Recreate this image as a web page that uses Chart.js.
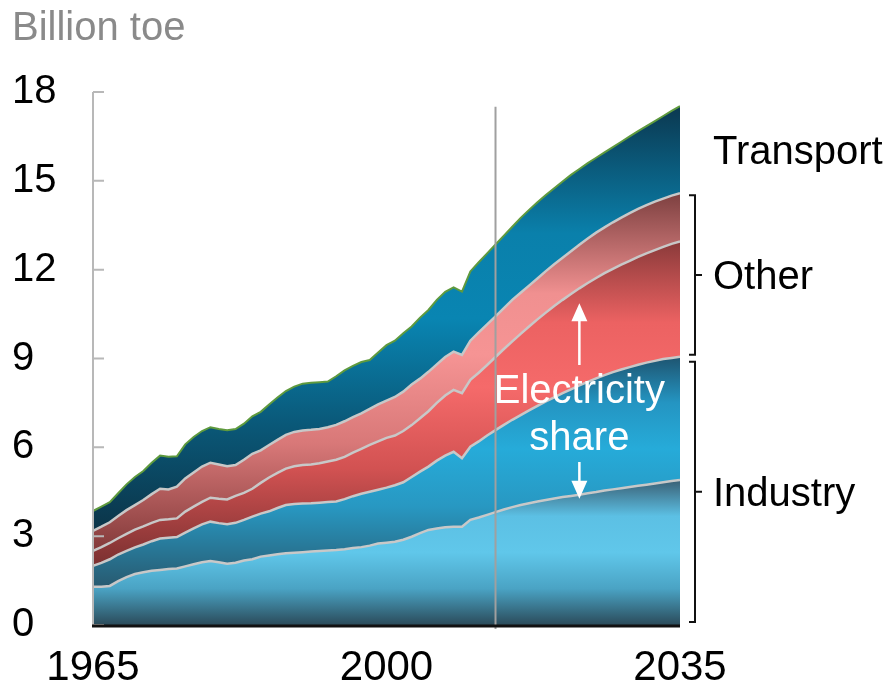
<!DOCTYPE html>
<html>
<head>
<meta charset="utf-8">
<title>Final energy consumption by sector</title>
<script src="https://cdn.jsdelivr.net/npm/chart.js@4.4.1/dist/chart.umd.min.js"></script>
<style>
  html, body { margin: 0; padding: 0; background: #fff; }
  #wrap { width: 896px; height: 683px; }
</style>
</head>
<body>
<div id="wrap"><canvas id="chart" width="896" height="683"></canvas></div>
<script>
// Values, billion toe. Each array is the top edge of a band,
// so the bands are stacked by hand (industry elec, industry, other elec, other, transport).
const years = [
  1965, 1966, 1967, 1968, 1969, 1970, 1971, 1972, 1973, 1974,
  1975, 1976, 1977, 1978, 1979, 1980, 1981, 1982, 1983, 1984,
  1985, 1986, 1987, 1988, 1989, 1990, 1991, 1992, 1993, 1994,
  1995, 1996, 1997, 1998, 1999, 2000, 2001, 2002, 2003, 2004,
  2005, 2006, 2007, 2008, 2009, 2010, 2011, 2012, 2013, 2014,
  2015, 2016, 2017, 2018, 2019, 2020, 2021, 2022, 2023, 2024,
  2025, 2026, 2027, 2028, 2029, 2030, 2031, 2032, 2033, 2034, 2035
];
const industryElec = [
  1.29, 1.29, 1.32, 1.48, 1.62, 1.72, 1.78, 1.83, 1.86, 1.89,
  1.91, 1.98, 2.05, 2.12, 2.16, 2.12, 2.07, 2.10, 2.18, 2.22,
  2.31, 2.35, 2.39, 2.42, 2.44, 2.46, 2.48, 2.50, 2.52, 2.53,
  2.56, 2.60, 2.63, 2.68, 2.75, 2.78, 2.81, 2.88, 2.98, 3.10,
  3.21, 3.26, 3.30, 3.32, 3.32, 3.55, 3.63, 3.72, 3.81, 3.90,
  3.98, 4.05, 4.11, 4.17, 4.22, 4.27, 4.32, 4.36, 4.40, 4.45,
  4.49, 4.54, 4.58, 4.62, 4.66, 4.70, 4.74, 4.78, 4.82, 4.86, 4.90
];
const industryTotal = [
  2.00, 2.10, 2.22, 2.38, 2.50, 2.62, 2.72, 2.83, 2.92, 2.95,
  2.97, 3.12, 3.26, 3.40, 3.49, 3.44, 3.40, 3.45, 3.55, 3.66,
  3.76, 3.84, 3.95, 4.05, 4.09, 4.10, 4.11, 4.13, 4.15, 4.17,
  4.25, 4.35, 4.43, 4.50, 4.57, 4.64, 4.72, 4.82, 5.00, 5.18,
  5.35, 5.55, 5.72, 5.85, 5.63, 6.02, 6.20, 6.40, 6.58, 6.76,
  6.93, 7.09, 7.25, 7.40, 7.55, 7.69, 7.83, 7.96, 8.09, 8.21,
  8.33, 8.44, 8.54, 8.63, 8.71, 8.79, 8.86, 8.92, 8.98, 9.02, 9.06
];
const otherElecCum = [
  2.50, 2.63, 2.77, 2.93, 3.08, 3.22, 3.33, 3.45, 3.55, 3.57,
  3.60, 3.83, 4.00, 4.16, 4.30, 4.26, 4.24, 4.36, 4.46, 4.60,
  4.80, 4.98, 5.14, 5.28, 5.36, 5.40, 5.42, 5.46, 5.52, 5.58,
  5.68, 5.82, 5.95, 6.08, 6.20, 6.32, 6.40, 6.55, 6.75, 6.98,
  7.22, 7.50, 7.75, 7.94, 7.83, 8.28, 8.52, 8.78, 9.05, 9.32,
  9.58, 9.83, 10.08, 10.32, 10.55, 10.77, 10.98, 11.18, 11.37, 11.55,
  11.72, 11.88, 12.03, 12.17, 12.30, 12.43, 12.55, 12.66, 12.77, 12.87, 12.95
];
const otherTotalCum = [
  3.18, 3.32, 3.47, 3.68, 3.88, 4.05, 4.22, 4.42, 4.60, 4.58,
  4.67, 4.95, 5.15, 5.35, 5.48, 5.42, 5.36, 5.40, 5.58, 5.78,
  5.90, 6.08, 6.25, 6.42, 6.52, 6.57, 6.59, 6.62, 6.68, 6.76,
  6.88, 7.02, 7.15, 7.30, 7.45, 7.58, 7.70, 7.88, 8.12, 8.32,
  8.55, 8.80, 9.05, 9.23, 9.12, 9.60, 9.88, 10.15, 10.42, 10.70,
  10.98, 11.22, 11.46, 11.70, 11.95, 12.18, 12.40, 12.62, 12.84, 13.05,
  13.25, 13.43, 13.60, 13.76, 13.91, 14.05, 14.18, 14.30, 14.40, 14.50, 14.58
];
const totalDemand = [
  3.85, 4.00, 4.15, 4.45, 4.75, 5.00, 5.20, 5.48, 5.72, 5.68,
  5.70, 6.10, 6.35, 6.55, 6.68, 6.62, 6.58, 6.62, 6.80, 7.05,
  7.20, 7.45, 7.68, 7.90, 8.05, 8.15, 8.18, 8.20, 8.22, 8.40,
  8.60, 8.75, 8.88, 8.95, 9.20, 9.45, 9.60, 9.85, 10.08, 10.38,
  10.64, 10.98, 11.25, 11.40, 11.26, 11.94, 12.25, 12.55, 12.85, 13.15,
  13.45, 13.75, 14.02, 14.28, 14.52, 14.75, 14.98, 15.20, 15.40, 15.60,
  15.78, 15.96, 16.14, 16.32, 16.50, 16.68, 16.85, 17.02, 17.19, 17.36, 17.52
];
const seriesNames = ['Industry electricity', 'Industry other', 'Other electricity', 'Other', 'Transport'];
const yTicks = [0, 3, 6, 9, 12, 15, 18];
const xTicks = [1965, 2000, 2035];
const baseYear = 2013;
const arrowYear = 2023;

const FONT = "'Liberation Sans', Arial, sans-serif";
const layers = [industryElec, industryTotal, otherElecCum, otherTotalCum, totalDemand];

// gradient stops for each band, bottom -> top of the band's own span
const bandStops = [
  [[0, '#2b4b5a'], [0.25, '#4aa3c4'], [0.5, '#60c7ea'], [0.75, '#5cc0e4'], [1, '#3a5f74']],
  [[0, '#285a70'], [0.35, '#2898c2'], [0.6, '#26abd9'], [0.8, '#2495c2'], [1, '#1e5470']],
  [[0, '#7a3030'], [0.3, '#d25252'], [0.55, '#f56a6a'], [0.75, '#ec6262'], [1, '#8a3a3a']],
  [[0, '#833a3a'], [0.3, '#d87878'], [0.55, '#f69494'], [0.72, '#f09090'], [1, '#7d4040']],
  [[0, '#0b3448'], [0.25, '#0a5878'], [0.5, '#0985b2'], [0.7, '#0a80ab'], [1, '#0b3850']]
];

function bandFill(i) {
  return (context) => {
    const chart = context.chart;
    if (!chart.chartArea) return bandStops[i][2][1];
    const y = chart.scales.y;
    const lo = i === 0 ? 0 : Math.min(...layers[i - 1]);
    const hi = Math.max(...layers[i]);
    const g = chart.ctx.createLinearGradient(0, y.getPixelForValue(lo), 0, y.getPixelForValue(hi));
    bandStops[i].forEach(([p, c]) => g.addColorStop(p, c));
    return g;
  };
}

// axes, base-year line, brackets and annotations
const decorations = {
  id: 'decorations',
  afterDraw(chart) {
    const { ctx, chartArea: area, scales: { x, y } } = chart;
    const last = years.length - 1;
    ctx.save();

    // y axis with inward ticks
    ctx.strokeStyle = '#b8b8b8';
    ctx.lineWidth = 2;
    ctx.beginPath();
    ctx.moveTo(area.left, y.getPixelForValue(18));
    ctx.lineTo(area.left, y.getPixelForValue(0));
    yTicks.forEach(v => {
      const py = y.getPixelForValue(v);
      ctx.moveTo(area.left, py);
      ctx.lineTo(area.left + 11, py);
    });
    ctx.stroke();

    // base year divider
    const bx = x.getPixelForValue(baseYear);
    ctx.strokeStyle = '#a0a0a0';
    ctx.lineWidth = 2;
    ctx.beginPath();
    ctx.moveTo(bx, y.getPixelForValue(17.5));
    ctx.lineTo(bx, area.bottom + 4);
    ctx.stroke();

    // x axis
    ctx.strokeStyle = '#111';
    ctx.lineWidth = 3;
    ctx.beginPath();
    ctx.moveTo(area.left - 1, area.bottom + 1);
    ctx.lineTo(area.right, area.bottom + 1);
    ctx.stroke();

    // x tick labels, kept inside the canvas
    ctx.fillStyle = '#000';
    ctx.font = '42px ' + FONT;
    ctx.textAlign = 'center';
    ctx.textBaseline = 'alphabetic';
    xTicks.forEach(v => {
      const w = ctx.measureText(String(v)).width;
      let cx = x.getPixelForValue(v);
      cx = Math.min(Math.max(cx, 8 + w / 2), chart.width - 8 - w / 2);
      ctx.fillText(String(v), cx, area.bottom + 55);
    });

    // unit
    ctx.fillStyle = '#8a8a8a';
    ctx.font = '40px ' + FONT;
    ctx.textAlign = 'left';
    ctx.fillText('Billion toe', 12, 40);

    // brackets and sector labels
    const r = area.right;
    ctx.strokeStyle = '#111';
    ctx.lineWidth = 2;
    ctx.fillStyle = '#000';
    ctx.font = '40px ' + FONT;
    const bracket = (top, bottom) => {
      const mid = (top + bottom) / 2;
      ctx.beginPath();
      ctx.moveTo(r + 9, top);
      ctx.lineTo(r + 15, top);
      ctx.lineTo(r + 15, bottom);
      ctx.lineTo(r + 9, bottom);
      ctx.moveTo(r + 15, mid);
      ctx.lineTo(r + 22, mid);
      ctx.stroke();
      return mid;
    };
    const yOther = bracket(y.getPixelForValue(otherTotalCum[last]) + 2, y.getPixelForValue(industryTotal[last]) - 2);
    const yInd = bracket(y.getPixelForValue(industryTotal[last]) + 5, y.getPixelForValue(0) - 3);
    const yTrans = (y.getPixelForValue(totalDemand[last]) + y.getPixelForValue(otherTotalCum[last])) / 2;
    ctx.fillText('Transport', r + 33, yTrans + 14);
    ctx.fillText('Other', r + 33, yOther + 14);
    ctx.fillText('Industry', r + 33, yInd + 14);

    // electricity share note
    const ai = years.indexOf(arrowYear);
    const ax = x.getPixelForValue(arrowYear);
    ctx.fillStyle = '#fff';
    ctx.strokeStyle = '#fff';
    ctx.textAlign = 'center';
    const ty = y.getPixelForValue(7.5);
    ctx.fillText('Electricity', ax, ty);
    ctx.fillText('share', ax, ty + 47);

    const upTip = y.getPixelForValue(otherElecCum[ai]) + 15;
    const downTip = y.getPixelForValue(industryElec[ai]) + 4;
    ctx.lineWidth = 2.5;
    ctx.beginPath();
    ctx.moveTo(ax, ty - 38);
    ctx.lineTo(ax, upTip + 14);
    ctx.moveTo(ax, ty + 59);
    ctx.lineTo(ax, downTip - 14);
    ctx.stroke();
    ctx.beginPath();
    ctx.moveTo(ax, upTip);
    ctx.lineTo(ax - 8, upTip + 18);
    ctx.lineTo(ax + 8, upTip + 18);
    ctx.closePath();
    ctx.moveTo(ax, downTip);
    ctx.lineTo(ax - 8, downTip - 18);
    ctx.lineTo(ax + 8, downTip - 18);
    ctx.closePath();
    ctx.fill();

    ctx.restore();
  }
};

new Chart(document.getElementById('chart'), {
  type: 'line',
  data: {
    labels: years,
    datasets: layers.map((data, i) => ({
      label: seriesNames[i],
      data: data,
      fill: i === 0 ? 'origin' : '-1',
      backgroundColor: bandFill(i),
      borderColor: i === 4 ? '#5f9a3e' : '#c8c8c8',
      borderWidth: i === 4 ? 2 : 2.5,
      pointRadius: 0,
      tension: 0
    }))
  },
  options: {
    responsive: false,
    animation: false,
    devicePixelRatio: 1,
    layout: { padding: { left: 12, right: 216, top: 92, bottom: 0 } },
    plugins: {
      legend: { display: false },
      tooltip: { enabled: false }
    },
    scales: {
      x: {
        type: 'linear',
        min: 1965,
        max: 2035,
        afterBuildTicks: s => { s.ticks = xTicks.map(v => ({ value: v })); },
        afterFit: s => { s.height = 58; },
        grid: { display: false },
        border: { display: false },
        ticks: { display: false }
      },
      y: {
        min: 0,
        max: 18,
        afterBuildTicks: s => { s.ticks = yTicks.map(v => ({ value: v })); },
        afterFit: s => { s.width = 81; },
        grid: { display: false, drawTicks: false },
        border: { display: false },
        ticks: {
          crossAlign: 'far',
          padding: 0,
          color: '#000',
          font: { family: FONT, size: 40 }
        }
      }
    }
  },
  plugins: [decorations]
});
</script>
</body>
</html>
